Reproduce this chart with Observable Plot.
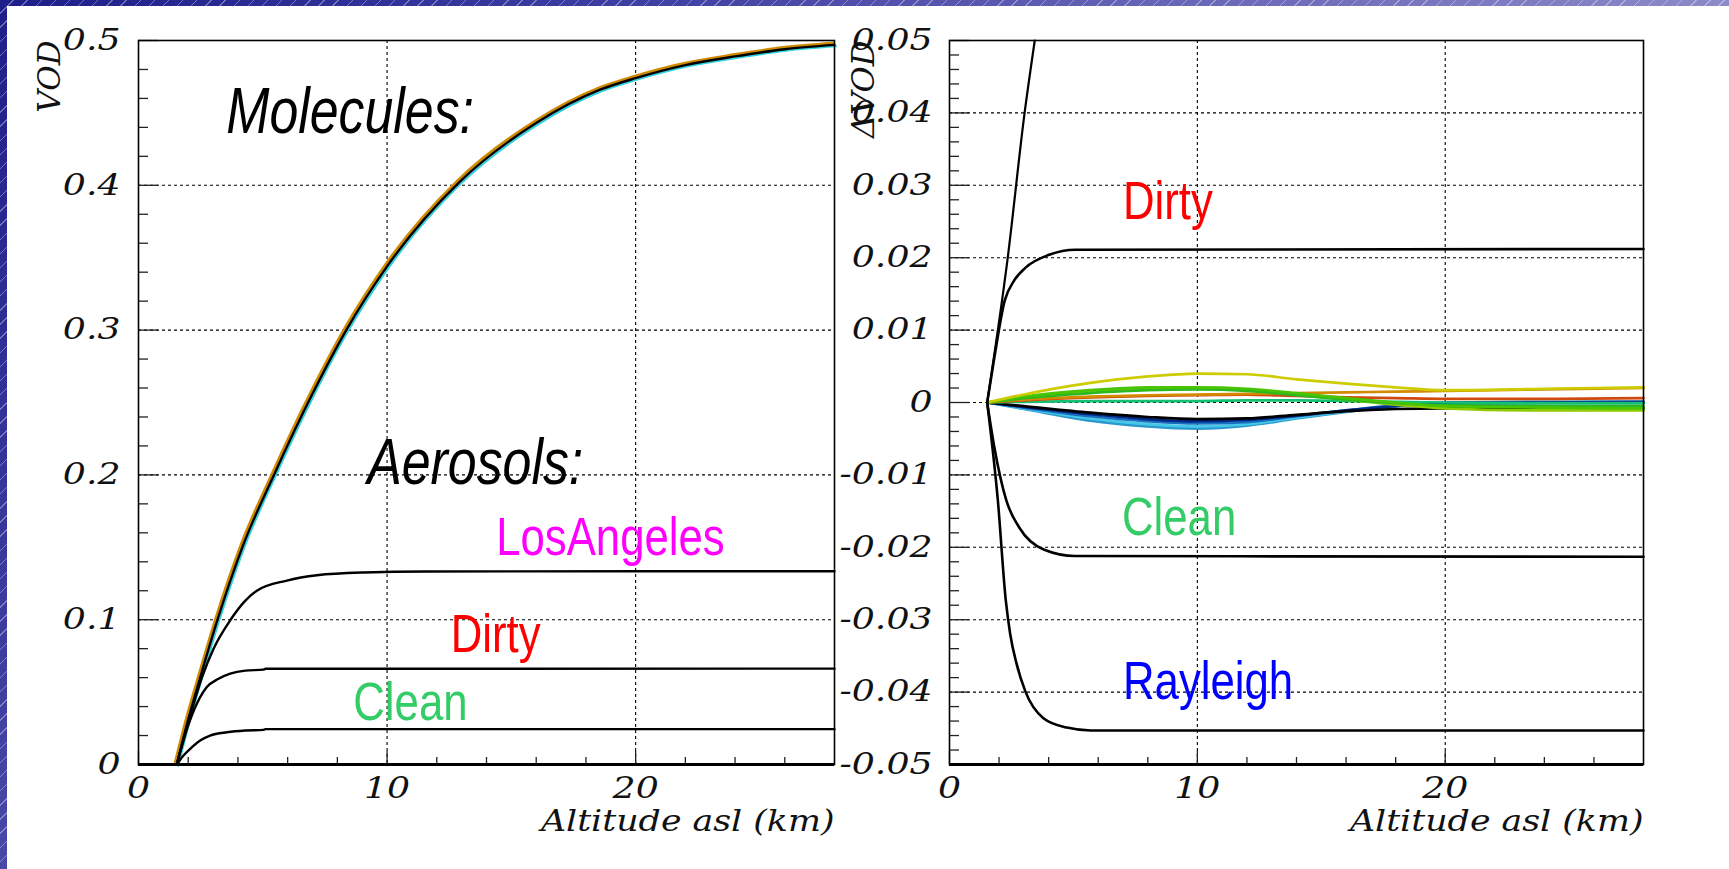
<!DOCTYPE html>
<html>
<head>
<meta charset="utf-8">
<script src="https://cdn.jsdelivr.net/npm/d3@7"></script>
<script src="https://cdn.jsdelivr.net/npm/@observablehq/plot@0.6"></script>
<style>
html, body { margin: 0; padding: 0; width: 1729px; height: 869px; overflow: hidden; background: #fff; }
#topstrip { position: absolute; left: 0; top: 0; width: 1729px; height: 6px;
  background: repeating-linear-gradient(135deg, rgba(255,255,255,0) 0 9px, rgba(255,255,255,0.35) 9px 10px),
              linear-gradient(90deg, #1e1e8a 0%, #3c3ca2 35%, #6a68b8 70%, #8c8ac8 100%); }
#leftstrip { position: absolute; left: 0; top: 0; width: 7px; height: 869px;
  background: repeating-linear-gradient(135deg, rgba(255,255,255,0) 0 9px, rgba(255,255,255,0.35) 9px 10px),
              linear-gradient(180deg, #1e1e8a 0%, #2e2e96 40%, #4848a8 100%); }
.panel { position: absolute; top: 0; }
.panel svg { overflow: visible; }
</style>
</head>
<body>
<div id="topstrip"></div>
<div id="leftstrip"></div>
<div id="left" class="panel" style="left:0px"></div>
<div id="right" class="panel" style="left:800px"></div>
<script>
// ---------- Axis ticks / labels ----------
const xDomain = [0, 28];
const xMajor = [0, 10, 20];
const xMajorLabels = ["0", "10", "20"];
const xMinor = [2, 4, 6, 8, 12, 14, 16, 18, 22, 24, 26];
const xGrid = [10, 20];
const xTitle = "Altitude asl (km)";

const leftYDomain = [0, 0.5];
const leftYMajor = [0, 0.1, 0.2, 0.3, 0.4, 0.5];
const leftYLabels = ["0", "0.1", "0.2", "0.3", "0.4", "0.5"];
const leftYMinor = [0.02, 0.04, 0.06, 0.08, 0.12, 0.14, 0.16, 0.18, 0.22, 0.24, 0.26, 0.28,
                    0.32, 0.34, 0.36, 0.38, 0.42, 0.44, 0.46, 0.48];
const leftYGrid = [0.1, 0.2, 0.3, 0.4];
const leftYTitle = "VOD";

const rightYDomain = [-0.05, 0.05];
const rightYMajor = [-0.05, -0.04, -0.03, -0.02, -0.01, 0, 0.01, 0.02, 0.03, 0.04, 0.05];
const rightYLabels = ["-0.05", "-0.04", "-0.03", "-0.02", "-0.01", "0", "0.01", "0.02", "0.03", "0.04", "0.05"];
const rightYMinor = d3.range(-50, 51, 2).filter(v => v % 10 !== 0).map(v => v / 1000);
const rightYGrid = [-0.04, -0.03, -0.02, -0.01, 0, 0.01, 0.02, 0.03, 0.04];
const rightYTitle = "\u0394VOD";

// ---------- Left panel data: VOD vs altitude ----------
const molAlt = [1.54, 2.0, 2.5, 3.18, 4.2, 5.45, 7.0, 8.36, 10, 12.9, 16, 18.57, 20, 22, 24, 26, 28];
const molVOD = [0, 0.031, 0.061, 0.1, 0.151, 0.2, 0.256, 0.3, 0.344, 0.402, 0.443, 0.466, 0.474, 0.483, 0.489, 0.494, 0.497];

const laAlt = [1.54, 2.0, 2.55, 3.02, 3.69, 4.29, 4.76, 5.97, 7.18, 9.05, 11.6, 28];
const laVOD = [0, 0.029, 0.06, 0.08, 0.0996, 0.113, 0.12, 0.127, 0.1307, 0.1326, 0.1333, 0.1335];

const dirtyAlt = [1.54, 2.0, 2.48, 2.75, 3.2, 3.69, 4.3, 5.03, 5.1, 28];
const dirtyVOD = [0, 0.027, 0.0465, 0.0535, 0.059, 0.0627, 0.0648, 0.0655, 0.0661, 0.0662];

const cleanAlt = [1.54, 1.8, 2.15, 2.48, 2.88, 3.56, 4.3, 5.03, 5.1, 28];
const cleanVOD = [0, 0.006, 0.012, 0.0166, 0.02, 0.0223, 0.0235, 0.0239, 0.0244, 0.0244];

// ---------- Right panel data: ΔVOD vs altitude ----------
const laDiffAlt = [1.52, 2.35, 3.03, 3.44];
const laDiff = [0, 0.02, 0.04, 0.05];
const dirtyDiffAlt = [1.52, 1.8, 2.23, 2.6, 3.06, 4.02, 5.08, 28];
const dirtyDiff = [0, 0.006, 0.0141, 0.0168, 0.0186, 0.0204, 0.0211, 0.0212];
const cleanDiffAlt = [1.52, 1.8, 2.29, 2.82, 3.8, 5.07, 28];
const cleanDiff = [0, -0.006, -0.0135, -0.0173, -0.0203, -0.0212, -0.0213];
const rayAlt = [1.52, 1.95, 2.27, 2.45, 2.7, 3.06, 3.79, 4.74, 5.7, 28];
const rayDiff = [0, -0.0135, -0.0273, -0.032, -0.036, -0.0399, -0.0436, -0.0449, -0.0453, -0.0453];

// molecular model differences (shared altitude grid)
const modelAlt = [1.52, 3, 5.68, 8, 10, 12, 14, 16, 18, 20, 24, 28];
const modelSky    = [0, -0.0009, -0.0025, -0.0033, -0.0036, -0.0032, -0.0022, -0.0013, -0.0005, -0.0002, -0.0001, -0.0001];
const modelCyan   = [0, -0.0008, -0.0022, -0.0030, -0.0033, -0.0030, -0.0021, -0.0012, -0.0005, -0.0001, 0.0000, 0.0000];
const modelBlue   = [0, -0.0007, -0.0019, -0.0026, -0.0029, -0.0027, -0.0019, -0.0011, -0.0004, 0.0000, 0.0001, 0.0001];
const modelNavy   = [0, -0.0006, -0.0016, -0.0023, -0.0026, -0.0024, -0.0018, -0.0011, -0.0005, -0.0001, 0.0000, 0.0001];
const modelBlack  = [0, -0.0005, -0.0014, -0.0020, -0.0023, -0.0022, -0.0017, -0.0012, -0.0009, -0.0008, -0.0008, -0.0008];
const modelTeal   = [0, 0.0001, 0.0002, 0.0002, 0.0002, 0.0003, 0.0003, 0.0002, 0.0001, 0.0000, -0.0001, -0.0001];
const modelRed    = [0, 0.0003, 0.0007, 0.0009, 0.0010, 0.0011, 0.0009, 0.0007, 0.0006, 0.0005, 0.0005, 0.0006];
const modelOrange = [0, 0.0004, 0.0008, 0.0010, 0.0011, 0.0012, 0.0013, 0.0014, 0.0015, 0.0016, 0.0018, 0.0020];
const modelLime   = [0, 0.0007, 0.0015, 0.0019, 0.0019, 0.0017, 0.0011, 0.0004, -0.0003, -0.0008, -0.0011, -0.0011];
const modelGreen2 = [0, 0.0006, 0.0013, 0.0017, 0.0018, 0.0016, 0.0010, 0.0004, -0.0001, -0.0004, -0.0005, -0.0005];
const modelGreen1 = [0, 0.0008, 0.0017, 0.0021, 0.0021, 0.0019, 0.0013, 0.0006, 0.0000, -0.0005, -0.0007, -0.0008];
const modelYellow = [0, 0.0011, 0.0027, 0.0036, 0.0040, 0.0039, 0.0032, 0.0026, 0.0021, 0.0017, 0.0019, 0.0021];
const modelSeries = [modelSky, modelCyan, modelBlue, modelNavy, modelBlack, modelTeal, modelRed, modelOrange, modelLime, modelGreen2, modelGreen1, modelYellow];
const modelColors = ["#2a98cc", "#44c8e8", "#1a6ec0", "#002a8a", "#000000", "#14c072", "#d04a10", "#d48a00", "#8ccc00", "#2cb820", "#48c400", "#cccc00"];

// ---------- Annotation labels ----------
const leftHeadText = ["Molecules:", "Aerosols:"];
const leftHeadX = [3.53, 9.2];
const leftHeadY = [0.436, 0.194];
const leftLabText = ["LosAngeles", "Dirty", "Clean"];
const leftLabX = [14.39, 12.56, 8.64];
const leftLabY = [0.1445, 0.0777, 0.0304];
const leftLabColor = ["#ff00ff", "#ff0000", "#33cc66"];
const rightLabText = ["Dirty", "Clean", "Rayleigh"];
const rightLabX = [7.0, 6.96, 7.0];
const rightLabY = [0.0254, -0.0183, -0.0409];
const rightLabColor = ["#ff0000", "#33cc66", "#0000ff"];

// ---------- helpers ----------
const zip = (xs, ys) => xs.map((x, i) => ({x, y: ys[i]}));
const serif = "DejaVu Serif, Liberation Serif, serif";
const sans = "Liberation Sans, Arial, Helvetica, sans-serif";
const tickFont = {fontSize: 29, fontFamily: serif, fontStyle: "italic"};
const titleFont = {fontSize: 29, fontFamily: serif, fontStyle: "italic", fill: "#111"};
const gridStyle = {stroke: "#000", strokeOpacity: 1, strokeWidth: 1.1, strokeDasharray: "3,3"};

function axesMarks(yMajor, yMinor, yLabels, yGrid, yPad) {
  return [
    Plot.gridY(yGrid, gridStyle),
    Plot.gridX(xGrid, gridStyle),
    Plot.axisY(yMinor, {tickSize: -10, fill: "none", label: null, stroke: "#222", strokeWidth: 1.3}),
    Plot.axisY(yMajor, {tickSize: -20, fill: "none", label: null, stroke: "#222", strokeWidth: 1.3}),
    Plot.axisY(yMajor, {tickSize: 0, tickPadding: yPad, stroke: "none", fill: "#111", label: null,
      tickFormat: d => yLabels[yMajor.indexOf(d)], ...tickFont}),
    Plot.axisX(xMinor, {tickSize: -7, fill: "none", label: null, stroke: "#222", strokeWidth: 1.3}),
    Plot.axisX(xMajor, {tickSize: -13, fill: "none", label: null, stroke: "#222", strokeWidth: 1.3}),
    Plot.axisX(xMajor, {tickSize: 0, tickPadding: 13, stroke: "none", fill: "#111", label: null,
      tickFormat: d => xMajorLabels[xMajor.indexOf(d)], ...tickFont}),
  ];
}

const common = {
  height: 869, marginTop: 40, marginBottom: 105,
  x: {domain: xDomain},
  color: {type: "identity"},
  style: {background: "transparent", overflow: "visible", maxWidth: "none", color: "#111"}
};

// ---------- Left plot ----------
const molData = zip(molAlt, molVOD);
const leftPlot = Plot.plot({
  ...common,
  width: 880, marginLeft: 138, marginRight: 46,
  y: {domain: leftYDomain},
  marks: [
    ...axesMarks(leftYMajor, leftYMinor, leftYLabels, leftYGrid, 18),
    Plot.line(molData, {x: "x", y: "y", stroke: "#d08a00", strokeWidth: 3, dx: -1.6, dy: -1.6, curve: "monotone-x"}),
    Plot.line(molData, {x: "x", y: "y", stroke: "#30d0e0", strokeWidth: 2, dx: 1.5, dy: 1.5, curve: "monotone-x"}),
    Plot.line(molData, {x: "x", y: "y", stroke: "#000", strokeWidth: 2.4, curve: "monotone-x"}),
    Plot.line(zip(laAlt, laVOD), {x: "x", y: "y", stroke: "#000", strokeWidth: 2.4, curve: "monotone-x"}),
    Plot.line(zip(dirtyAlt, dirtyVOD), {x: "x", y: "y", stroke: "#000", strokeWidth: 2.4, curve: "monotone-x"}),
    Plot.line(zip(cleanAlt, cleanVOD), {x: "x", y: "y", stroke: "#000", strokeWidth: 2.4, curve: "monotone-x"}),
    Plot.text(leftHeadText, {x: (d, i) => leftHeadX[i], y: (d, i) => leftHeadY[i], text: d => d,
      textAnchor: "start", lineAnchor: "bottom", fontSize: 64, fontFamily: sans, fontStyle: "italic", fill: "#000"}),
    Plot.text(leftLabText, {x: (d, i) => leftLabX[i], y: (d, i) => leftLabY[i], text: d => d,
      fill: (d, i) => leftLabColor[i], textAnchor: "start", lineAnchor: "bottom", fontSize: 54, fontFamily: sans}),
    Plot.text([leftYTitle], {frameAnchor: "top-left", rotate: -90, textAnchor: "end", dx: -101, ...titleFont, fontSize: 31}),
    Plot.text([xTitle], {frameAnchor: "bottom-right", textAnchor: "end", lineAnchor: "bottom", dy: 66, ...titleFont}),
    Plot.ruleY([leftYDomain[0]], {stroke: "#000", strokeWidth: 3}),
    Plot.frame({stroke: "#000", strokeWidth: 1.6})
  ]
});

// ---------- Right plot ----------
const modelData = modelSeries.flatMap((s, k) => s.map((v, i) => ({x: modelAlt[i], y: v, c: modelColors[k], k})));
const rightPlot = Plot.plot({
  ...common,
  width: 929, marginLeft: 149, marginRight: 86,
  y: {domain: rightYDomain},
  marks: [
    ...axesMarks(rightYMajor, rightYMinor, rightYLabels, rightYGrid, 17),
    Plot.line(modelData, {x: "x", y: "y", z: "k", stroke: "c", strokeWidth: 2.7, curve: "monotone-x"}),
    Plot.line(zip(laDiffAlt, laDiff), {x: "x", y: "y", stroke: "#000", strokeWidth: 2.2, curve: "monotone-x"}),
    Plot.line(zip(dirtyDiffAlt, dirtyDiff), {x: "x", y: "y", stroke: "#000", strokeWidth: 2.6, curve: "monotone-x"}),
    Plot.line(zip(cleanDiffAlt, cleanDiff), {x: "x", y: "y", stroke: "#000", strokeWidth: 2.6, curve: "monotone-x"}),
    Plot.line(zip(rayAlt, rayDiff), {x: "x", y: "y", stroke: "#000", strokeWidth: 2.6, curve: "monotone-x"}),
    Plot.text(rightLabText, {x: (d, i) => rightLabX[i], y: (d, i) => rightLabY[i], text: d => d,
      fill: (d, i) => rightLabColor[i], textAnchor: "start", lineAnchor: "bottom", fontSize: 54, fontFamily: sans}),
    Plot.text([rightYTitle], {frameAnchor: "top-left", rotate: -90, textAnchor: "end", dx: -98, ...titleFont, fontSize: 32}),
    Plot.text([xTitle], {frameAnchor: "bottom-right", textAnchor: "end", lineAnchor: "bottom", dy: 66, ...titleFont}),
    Plot.ruleY([rightYDomain[0]], {stroke: "#000", strokeWidth: 3}),
    Plot.frame({stroke: "#000", strokeWidth: 1.6})
  ]
});

document.getElementById("left").appendChild(leftPlot);
document.getElementById("right").appendChild(rightPlot);

// horizontal rescale of texts around their anchors: condensed sans annotations, wide serif axis texts
function squeeze(el, sx) {
  const t = el.getAttribute("transform") || "";
  el.setAttribute("transform", `${t} scale(${sx},1)`);
}
const annotSet = new Set([...leftHeadText, ...leftLabText, ...rightLabText]);
const tickSet = new Set([...xMajorLabels, ...leftYLabels, ...rightYLabels]);
document.querySelectorAll("svg text").forEach(el => {
  const s = el.textContent;
  if (annotSet.has(s)) squeeze(el, 0.81);
  else if (tickSet.has(s)) squeeze(el, 1.25);
  else if (s === xTitle) squeeze(el, 1.2);
});
</script>
</body>
</html>
